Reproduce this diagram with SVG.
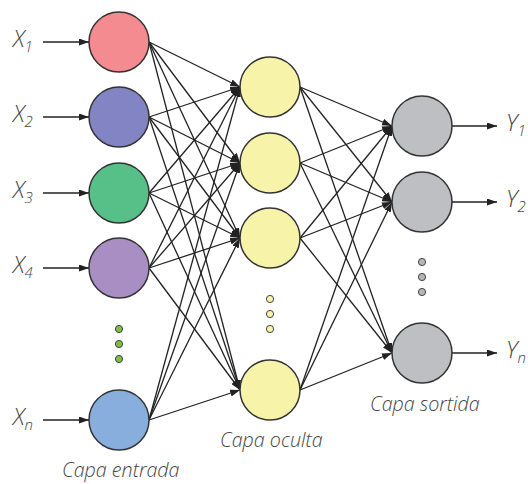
<svg xmlns="http://www.w3.org/2000/svg" width="528" height="484" viewBox="0 0 528 484">
  <style>
    .node { stroke: #333; stroke-width: 1.5; }
    .in1 { fill: #F48B90; }
    .in2 { fill: #8384C3; }
    .in3 { fill: #57BF88; }
    .in4 { fill: #A88EC3; }
    .inn { fill: #88AEDD; }
    .hid { fill: #F7F4AA; }
    .out { fill: #BEBFC2; }
    .dot-in { fill: #7CC04A; stroke: #444; stroke-width: 1; }
    .dot-hid { fill: #F7F4AA; stroke: #444; stroke-width: 1; }
    .dot-out { fill: #B5B6B8; stroke: #444; stroke-width: 1; }
    .edge { stroke: #222; stroke-width: 1.3; fill: none; marker-end: url(#arrow); }
    .lbl { font-family: "Open Sans", "Liberation Sans", sans-serif; font-style: italic; font-weight: 300; fill: #444; }
    .var { font-size: 23px; }
    .sub { font-size: 15px; }
    .cap { font-size: 19.7px; }
  </style>
  <defs>
    <marker id="arrow" viewBox="0 0 10 7" refX="10" refY="3.5" markerWidth="10" markerHeight="7" markerUnits="userSpaceOnUse" orient="auto">
      <path d="M0,0 L10,3.5 L0,7 z" fill="#222"/>
    </marker>
  </defs>

  <!-- connectors -->
  <g id="connectors">
    <!-- inputs to input layer -->
    <line class="edge" x1="43" y1="42" x2="89" y2="42"/>
    <line class="edge" x1="43" y1="117" x2="89" y2="117"/>
    <line class="edge" x1="43" y1="193" x2="89" y2="193"/>
    <line class="edge" x1="43" y1="268" x2="89" y2="268"/>
    <line class="edge" x1="43" y1="420" x2="89" y2="420"/>
    <!-- input layer to hidden layer -->
    <line class="edge" x1="149" y1="42" x2="240" y2="87"/>
    <line class="edge" x1="149" y1="42" x2="240" y2="163"/>
    <line class="edge" x1="149" y1="42" x2="240" y2="238"/>
    <line class="edge" x1="149" y1="42" x2="240" y2="390"/>
    <line class="edge" x1="149" y1="117" x2="240" y2="87"/>
    <line class="edge" x1="149" y1="117" x2="240" y2="163"/>
    <line class="edge" x1="149" y1="117" x2="240" y2="238"/>
    <line class="edge" x1="149" y1="117" x2="240" y2="390"/>
    <line class="edge" x1="149" y1="193" x2="240" y2="87"/>
    <line class="edge" x1="149" y1="193" x2="240" y2="163"/>
    <line class="edge" x1="149" y1="193" x2="240" y2="238"/>
    <line class="edge" x1="149" y1="193" x2="240" y2="390"/>
    <line class="edge" x1="149" y1="268" x2="240" y2="87"/>
    <line class="edge" x1="149" y1="268" x2="240" y2="163"/>
    <line class="edge" x1="149" y1="268" x2="240" y2="238"/>
    <line class="edge" x1="149" y1="268" x2="240" y2="390"/>
    <line class="edge" x1="149" y1="420" x2="240" y2="87"/>
    <line class="edge" x1="149" y1="420" x2="240" y2="163"/>
    <line class="edge" x1="149" y1="420" x2="240" y2="238"/>
    <line class="edge" x1="149" y1="420" x2="240" y2="390"/>
    <!-- hidden layer to output layer -->
    <line class="edge" x1="300" y1="87" x2="392" y2="126"/>
    <line class="edge" x1="300" y1="87" x2="392" y2="202"/>
    <line class="edge" x1="300" y1="87" x2="392" y2="353"/>
    <line class="edge" x1="300" y1="163" x2="392" y2="126"/>
    <line class="edge" x1="300" y1="163" x2="392" y2="202"/>
    <line class="edge" x1="300" y1="163" x2="392" y2="353"/>
    <line class="edge" x1="300" y1="238" x2="392" y2="126"/>
    <line class="edge" x1="300" y1="238" x2="392" y2="202"/>
    <line class="edge" x1="300" y1="238" x2="392" y2="353"/>
    <line class="edge" x1="300" y1="390" x2="392" y2="126"/>
    <line class="edge" x1="300" y1="390" x2="392" y2="202"/>
    <line class="edge" x1="300" y1="390" x2="392" y2="353"/>
    <!-- output layer to outputs -->
    <line class="edge" x1="452" y1="126" x2="497" y2="126"/>
    <line class="edge" x1="452" y1="202" x2="497" y2="202"/>
    <line class="edge" x1="452" y1="353" x2="497" y2="353"/>
  </g>

  <!-- input layer -->
  <g id="in-1"><circle class="node in1" cx="119" cy="42" r="30"/></g>
  <g id="in-2"><circle class="node in2" cx="119" cy="117" r="30"/></g>
  <g id="in-3"><circle class="node in3" cx="119" cy="193" r="30"/></g>
  <g id="in-4"><circle class="node in4" cx="119" cy="268" r="30"/></g>
  <g id="in-dots">
    <circle class="dot-in" cx="119" cy="329" r="3.6"/>
    <circle class="dot-in" cx="119" cy="344" r="3.6"/>
    <circle class="dot-in" cx="119" cy="359" r="3.6"/>
  </g>
  <g id="in-n"><circle class="node inn" cx="119" cy="420" r="30"/></g>

  <!-- hidden layer -->
  <g id="hid-1"><circle class="node hid" cx="270" cy="87" r="30"/></g>
  <g id="hid-2"><circle class="node hid" cx="270" cy="163" r="30"/></g>
  <g id="hid-3"><circle class="node hid" cx="270" cy="238" r="30"/></g>
  <g id="hid-dots">
    <circle class="dot-hid" cx="270" cy="299" r="3.6"/>
    <circle class="dot-hid" cx="270" cy="314" r="3.6"/>
    <circle class="dot-hid" cx="270" cy="329" r="3.6"/>
  </g>
  <g id="hid-n"><circle class="node hid" cx="270" cy="390" r="30"/></g>

  <!-- output layer -->
  <g id="out-1"><circle class="node out" cx="422" cy="126" r="30"/></g>
  <g id="out-2"><circle class="node out" cx="422" cy="202" r="30"/></g>
  <g id="out-dots">
    <circle class="dot-out" cx="422" cy="262" r="3.6"/>
    <circle class="dot-out" cx="422" cy="277" r="3.6"/>
    <circle class="dot-out" cx="422" cy="292" r="3.6"/>
  </g>
  <g id="out-n"><circle class="node out" cx="422" cy="353" r="30"/></g>

  <!-- input labels -->
  <g id="labels-in" class="lbl">
    <text class="var" x="13" y="47">X<tspan class="sub" dy="5">1</tspan></text>
    <text class="var" x="13" y="122">X<tspan class="sub" dy="5">2</tspan></text>
    <text class="var" x="13" y="198">X<tspan class="sub" dy="5">3</tspan></text>
    <text class="var" x="13" y="273">X<tspan class="sub" dy="5">4</tspan></text>
    <text class="var" x="13" y="425">X<tspan class="sub" dy="5">n</tspan></text>
  </g>

  <!-- output labels -->
  <g id="labels-out" class="lbl">
    <text class="var" x="506" y="131">Y<tspan class="sub" dy="5">1</tspan></text>
    <text class="var" x="506" y="207">Y<tspan class="sub" dy="5">2</tspan></text>
    <text class="var" x="506" y="358">Y<tspan class="sub" dy="5">n</tspan></text>
  </g>

  <!-- layer captions -->
  <g id="captions" class="lbl cap">
    <text x="62" y="477">Capa entrada</text>
    <text x="220" y="447">Capa oculta</text>
    <text x="370" y="411">Capa sortida</text>
  </g>
</svg>
